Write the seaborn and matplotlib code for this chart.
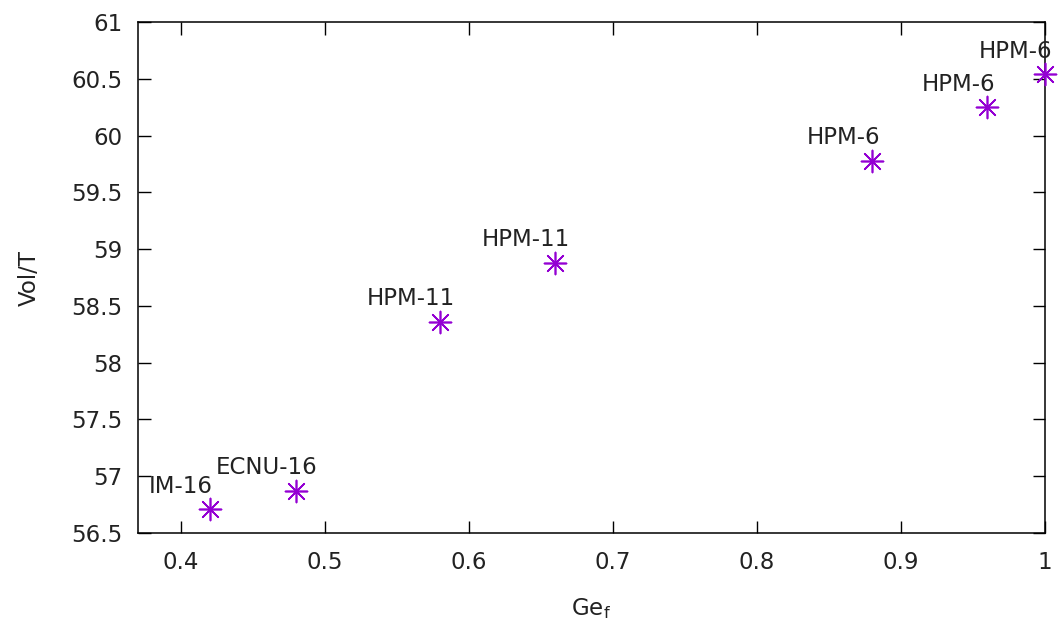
import matplotlib
matplotlib.use("Agg")
import matplotlib.pyplot as plt
import matplotlib.ticker as mticker
import seaborn as sns
import pandas as pd

# data
labels = ["IM-16", "ECNU-16", "HPM-11", "HPM-11", "HPM-6", "HPM-6", "HPM-6"]
ge_f = [0.42, 0.48, 0.58, 0.66, 0.88, 0.96, 1.0]
vol_t = [56.71, 56.87, 58.36, 58.88, 59.78, 60.25, 60.54]
x_ticks = [0.4, 0.5, 0.6, 0.7, 0.8, 0.9, 1.0]
y_ticks = [56.5, 57, 57.5, 58, 58.5, 59, 59.5, 60, 60.5, 61]

df = pd.DataFrame({"Ge_f": ge_f, "Vol_T": vol_t, "label": labels})

sns.set_style("ticks")
plt.rcParams["font.family"] = ["DejaVu Sans"]

FS = 16.5
fig = plt.figure(figsize=(10.58, 6.23), dpi=100)
ax = fig.add_axes([137.5/1058, 1-533/623, (1045-137.5)/1058, (533-22)/623])

sns.scatterplot(data=df, x="Ge_f", y="Vol_T", ax=ax, marker=(8, 2, 0),
                s=250, color="#9400D3", linewidth=1.2, zorder=3, clip_on=False)

for xv, yv, lab in zip(df["Ge_f"], df["Vol_T"], df["label"]):
    ax.annotate(lab, (xv, yv), xytext=(-29, 23), textcoords="offset pixels",
                ha="center", va="center", fontsize=FS, color="#222222")

ax.set_xlim(0.37, 1.0)
ax.set_ylim(56.5, 61)
ax.set_xticks(x_ticks)
ax.set_yticks(y_ticks)
fmt = mticker.FormatStrFormatter("%g")
ax.xaxis.set_major_formatter(fmt)
ax.yaxis.set_major_formatter(fmt)
ax.tick_params(direction="in", length=9, width=1, top=True, right=True,
               labelsize=FS, labelcolor="#222222", color="black")
ax.tick_params(axis="x", pad=13)
ax.tick_params(axis="y", pad=11)
for sp in ax.spines.values():
    sp.set_visible(True)
    sp.set_color("black")
    sp.set_linewidth(1.1)

ax.set_xlabel("Ge$_\\mathrm{f}$", fontsize=FS, color="#222222", labelpad=16)
ax.set_ylabel("Vol/T", fontsize=FS, color="#222222", labelpad=22)

fig.savefig("out.png", dpi=100)
